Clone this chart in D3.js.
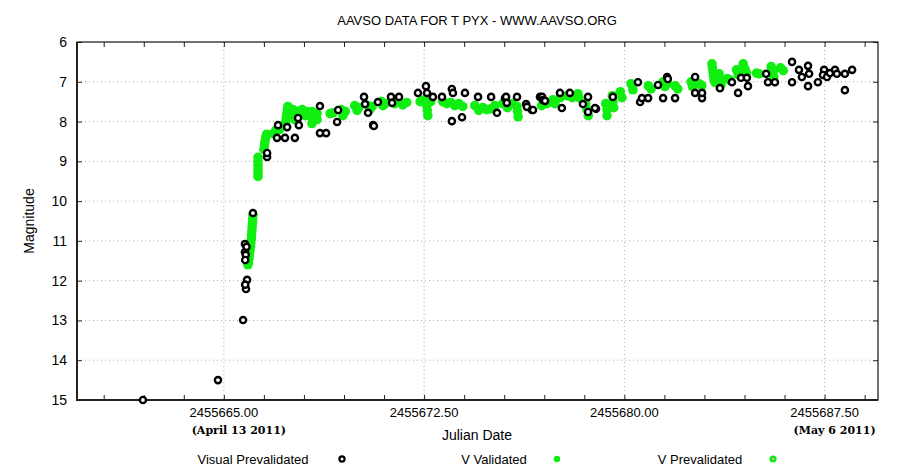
<!DOCTYPE html>
<html>
<head>
<meta charset="utf-8">
<script src="https://cdn.jsdelivr.net/npm/d3@7"></script>
<style>
  body { margin: 0; background: #fff; }
  svg text { font-family: "Liberation Sans", Arial, sans-serif; fill: #000; }
  .date-note { font-family: "DejaVu Serif", "Liberation Serif", serif; font-weight: bold; }
</style>
</head>
<body>
<div id="chart"></div>
<script>
// Julian dates are stored as offsets from JD0
const JD0 = 2455600;

// Visual Prevalidated (black)
const visualJD = [61.97, 64.78, 65.72, 65.83, 65.87, 65.80, 65.79, 65.79, 65.85, 65.82, 65.80, 66.09,
  66.62, 66.62, 66.99, 67.03, 67.29, 67.37, 67.66, 67.81, 67.78, 68.60, 68.83, 68.60, 69.28, 69.24,
  70.25, 70.59, 70.29, 70.40, 70.77, 70.62, 71.26, 71.30, 71.56, 72.27, 72.57, 72.61, 72.83, 73.17,
  73.54, 73.58, 73.54, 73.92, 74.03, 74.52, 75.01, 75.23, 75.53, 75.57, 75.60, 75.98, 76.32, 76.35,
  76.54, 76.58, 76.84, 76.92, 76.95, 77.03, 77.59, 77.66, 77.96, 78.45, 78.64, 78.64, 78.94, 78.90,
  79.57, 80.51, 80.59, 80.66, 80.89, 81.26, 81.45, 81.60, 81.63, 81.90, 82.65, 82.65, 82.91, 82.91,
  83.58, 84.03, 84.26, 84.37, 84.59, 84.63, 85.31, 85.38, 85.64, 86.28, 86.28, 86.54, 86.65, 86.88,
  86.92, 86.88, 87.25, 87.48, 87.44, 87.59, 87.70, 87.89, 87.96, 88.26, 88.26, 88.53];
const visualMag = [15.00, 14.50, 12.99, 12.21, 11.98, 12.10, 11.28, 11.08, 11.15, 11.35, 11.48, 10.30,
  8.89, 8.79, 8.41, 8.09, 8.41, 8.14, 8.41, 8.09, 7.91, 8.29, 8.29, 7.61, 7.71, 8.01,
  7.38, 8.09, 7.56, 7.78, 7.51, 8.11, 7.38, 7.53, 7.38, 7.28, 7.11, 7.28, 7.38, 7.38,
  7.18, 7.28, 7.99, 7.89, 7.28, 7.38, 7.38, 7.78, 7.41, 7.38, 7.53, 7.38, 7.56, 7.63,
  7.71, 7.71, 7.38, 7.38, 7.46, 7.48, 7.28, 7.66, 7.28, 7.56, 7.38, 7.76, 7.68, 7.66,
  7.38, 7.01, 7.51, 7.41, 7.41, 7.08, 7.41, 6.88, 6.93, 7.41, 6.88, 7.28, 7.41, 7.28,
  7.16, 7.01, 7.28, 6.90, 6.90, 7.11, 6.80, 7.01, 7.01, 6.50, 7.01, 6.70, 6.88, 6.60,
  6.80, 7.11, 7.01, 6.70, 6.83, 6.88, 6.78, 6.70, 6.80, 6.80, 7.21, 6.70];

// V Validated (green)
const vValJD = [66.09, 66.08, 66.07, 66.06, 66.05, 66.04, 66.03, 66.01, 66.00, 65.98, 65.96, 65.94, 65.92, 65.90,
  66.28, 66.28, 66.28, 66.28, 66.28, 66.28, 66.50, 66.52, 66.54, 66.57, 66.60, 66.85, 66.95, 67.08,
  67.30, 67.32, 67.34, 67.36, 67.38, 67.40, 67.59, 67.59, 67.66, 67.75, 67.85, 67.93, 68.05, 68.11,
  68.30, 68.30, 68.30, 68.34, 68.49, 68.49, 68.98, 69.09, 69.40, 69.46, 69.55, 69.90, 69.99, 70.05,
  70.40, 70.47, 70.55, 70.90, 70.96, 71.05, 71.40, 71.55, 71.70, 71.85, 72.35, 72.50, 72.60, 72.62,
  72.64, 72.75, 73.20, 73.35, 73.50, 73.65, 73.80, 73.95, 74.40, 74.55, 74.70, 74.85, 75.00, 75.15,
  75.45, 75.62, 75.80, 75.98, 76.00, 76.02, 76.90, 77.10, 77.33, 77.40, 77.60, 77.85, 78.05, 78.26,
  78.30, 78.55, 78.60, 78.65, 79.30, 79.35, 79.35, 79.55, 79.57, 79.60, 79.85, 79.91, 80.25, 80.32,
  80.90, 81.00, 81.45, 81.52, 81.60, 81.90, 82.00, 82.50, 82.55, 82.80, 82.90, 83.28, 83.30, 83.32,
  83.34, 83.36, 83.40, 83.55, 83.60, 83.62, 83.85, 83.95, 84.20, 84.26, 84.45, 84.52, 84.58, 84.95,
  85.05, 85.50, 85.57, 85.60, 85.85, 85.95];
const vValMag = [10.35, 10.45, 10.55, 10.65, 10.75, 10.85, 10.95, 11.05, 11.15, 11.25, 11.35, 11.45, 11.55, 11.60,
  8.90, 9.00, 9.10, 9.20, 9.30, 9.38, 8.70, 8.60, 8.50, 8.40, 8.32, 8.30, 8.22, 8.20,
  8.10, 8.00, 7.90, 7.80, 7.70, 7.62, 7.70, 7.85, 7.95, 7.75, 7.80, 7.70, 7.85, 7.75,
  7.75, 7.90, 8.05, 7.95, 7.80, 7.95, 7.80, 7.78, 7.70, 7.85, 7.75, 7.60, 7.72, 7.65,
  7.60, 7.70, 7.62, 7.50, 7.60, 7.55, 7.55, 7.50, 7.58, 7.52, 7.50, 7.45, 7.60, 7.72,
  7.85, 7.50, 7.50, 7.55, 7.52, 7.60, 7.55, 7.62, 7.60, 7.72, 7.65, 7.70, 7.68, 7.60,
  7.55, 7.65, 7.55, 7.62, 7.75, 7.88, 7.60, 7.55, 7.45, 7.55, 7.40, 7.35, 7.40, 7.30,
  7.40, 7.55, 7.70, 7.85, 7.55, 7.70, 7.85, 7.35, 7.50, 7.65, 7.25, 7.40, 7.05, 7.20,
  7.10, 7.18, 7.00, 7.12, 7.05, 7.10, 7.18, 7.00, 7.12, 7.05, 7.10, 6.55, 6.65, 6.75,
  6.85, 6.95, 7.02, 6.80, 6.95, 7.08, 6.92, 6.95, 6.70, 6.82, 6.55, 6.68, 6.78, 6.78,
  6.80, 6.62, 6.75, 6.88, 6.65, 6.72];

// V Prevalidated (green, dotted) - none distinguishable in the plot
const vPreJD = [];
const vPreMag = [];

const xDomain = [59.5, 89.5];
const yDomain = [6, 15];
const majorTicks = [65.0, 72.5, 80.0, 87.5];
const minorStep = 1.5;
const magTicks = [6, 7, 8, 9, 10, 11, 12, 13, 14, 15];
const dateNotes = [{text: "(April 13 2011)", jd: 65.0, dx: 15}, {text: "(May 6 2011)", jd: 87.5, dx: 10}];
const legendItems = ["Visual Prevalidated", "V Validated", "V Prevalidated"];

const width = 900, height = 473;
const margin = {top: 42, right: 22, bottom: 73, left: 77};
const green = "#11ee11";

const svg = d3.select("#chart").append("svg")
  .attr("width", width)
  .attr("height", height);

const x = d3.scaleLinear().domain(xDomain).range([margin.left, width - margin.right]);
const y = d3.scaleLinear().domain(yDomain).range([margin.top, height - margin.bottom]);

const minorTicks = d3.range(60.5, 89.5, minorStep);

// grid
const grid = svg.append("g").attr("stroke", "#aaa").attr("stroke-dasharray", "1,3").attr("stroke-width", 1);
grid.selectAll(".gx").data(majorTicks).join("line")
  .attr("x1", d => x(d)).attr("x2", d => x(d))
  .attr("y1", y.range()[0]).attr("y2", y.range()[1]);
grid.selectAll(".gy").data(magTicks.slice(1, -1)).join("line")
  .attr("x1", x.range()[0]).attr("x2", x.range()[1])
  .attr("y1", d => y(d)).attr("y2", d => y(d));

// axes with inward ticks
svg.append("g")
  .attr("transform", `translate(0,${y.range()[1]})`)
  .call(d3.axisBottom(x).tickValues(minorTicks).tickSize(-5).tickFormat(""))
  .call(g => g.select(".domain").remove());
svg.append("g")
  .attr("transform", `translate(0,${y.range()[0]})`)
  .call(d3.axisTop(x).tickValues(minorTicks).tickSize(-5).tickFormat(""))
  .call(g => g.select(".domain").remove());

const yAxisL = svg.append("g")
  .attr("transform", `translate(${x.range()[0]},0)`)
  .call(d3.axisLeft(y).tickValues(magTicks).tickSize(-5).tickPadding(10))
  .call(g => g.select(".domain").remove());
yAxisL.selectAll("text").style("font-size", "14px");
svg.append("g")
  .attr("transform", `translate(${x.range()[1]},0)`)
  .call(d3.axisRight(y).tickValues(magTicks).tickSize(-5).tickFormat(""))
  .call(g => g.select(".domain").remove());

svg.selectAll(".tick line").attr("stroke", "#222");

// x labels
svg.append("g").selectAll("text").data(majorTicks).join("text")
  .attr("x", d => x(d))
  .attr("y", y.range()[1] + 17)
  .attr("text-anchor", "middle")
  .style("font-size", "13px")
  .text(d => (JD0 + d).toFixed(2));

svg.append("g").selectAll("text").data(dateNotes).join("text")
  .attr("class", "date-note")
  .attr("x", d => x(d.jd) + d.dx)
  .attr("y", y.range()[1] + 34)
  .attr("text-anchor", "middle")
  .style("font-size", "11px")
  .text(d => d.text);

// frame
svg.append("rect")
  .attr("x", x.range()[0]).attr("y", y.range()[0])
  .attr("width", x.range()[1] - x.range()[0])
  .attr("height", y.range()[1] - y.range()[0])
  .attr("fill", "none").attr("stroke", "#111").attr("stroke-width", 1.2);
svg.append("path")
  .attr("d", `M${x.range()[0]},${y.range()[0]}V${y.range()[1]}H${x.range()[1]}`)
  .attr("fill", "none").attr("stroke", "#222").attr("stroke-width", 2);

// data
const toPts = (jd, mag) => jd.map((d, i) => ({jd: d, mag: mag[i]}));

svg.append("g").selectAll("circle").data(toPts(vValJD, vValMag)).join("circle")
  .attr("cx", d => x(d.jd)).attr("cy", d => y(d.mag))
  .attr("r", 4.8).attr("fill", green);

svg.append("g").selectAll("circle").data(toPts(vPreJD, vPreMag)).join("circle")
  .attr("cx", d => x(d.jd)).attr("cy", d => y(d.mag))
  .attr("r", 3.3).attr("fill", green).attr("stroke", green).attr("stroke-width", 1);

svg.append("g").selectAll("circle").data(toPts(visualJD, visualMag)).join("circle")
  .attr("cx", d => x(d.jd)).attr("cy", d => y(d.mag))
  .attr("r", 3.1).attr("fill", "#fff").attr("stroke", "#000").attr("stroke-width", 2.4);

// titles
svg.append("text")
  .attr("x", 477).attr("y", 25)
  .attr("text-anchor", "middle")
  .style("font-size", "13px")
  .text("AAVSO DATA FOR T PYX - WWW.AAVSO.ORG");

svg.append("text")
  .attr("x", 477).attr("y", 440)
  .attr("text-anchor", "middle")
  .style("font-size", "14px")
  .text("Julian Date");

svg.append("text")
  .attr("transform", `translate(34,${(y.range()[0] + y.range()[1]) / 2}) rotate(-90)`)
  .attr("text-anchor", "middle")
  .style("font-size", "14px")
  .text("Magnitude");

// legend
const legendX = [253, 494, 700];
const markerX = [342, 557, 773];
const legend = svg.append("g");
legend.selectAll("text").data(legendItems).join("text")
  .attr("x", (d, i) => legendX[i]).attr("y", 464)
  .attr("text-anchor", "middle")
  .style("font-size", "13px")
  .text(d => d);

legend.append("circle").attr("cx", markerX[0]).attr("cy", 459).attr("r", 2.6)
  .attr("fill", "#fff").attr("stroke", "#000").attr("stroke-width", 2.2);
legend.append("circle").attr("cx", markerX[1]).attr("cy", 459).attr("r", 3.2)
  .attr("fill", green);
legend.append("circle").attr("cx", markerX[2]).attr("cy", 459).attr("r", 3.6)
  .attr("fill", green);
legend.append("circle").attr("cx", markerX[2]).attr("cy", 459).attr("r", 1.3)
  .attr("fill", "#dfffdf").attr("stroke", "#3a8a3a").attr("stroke-width", 0.6);
</script>
</body>
</html>
